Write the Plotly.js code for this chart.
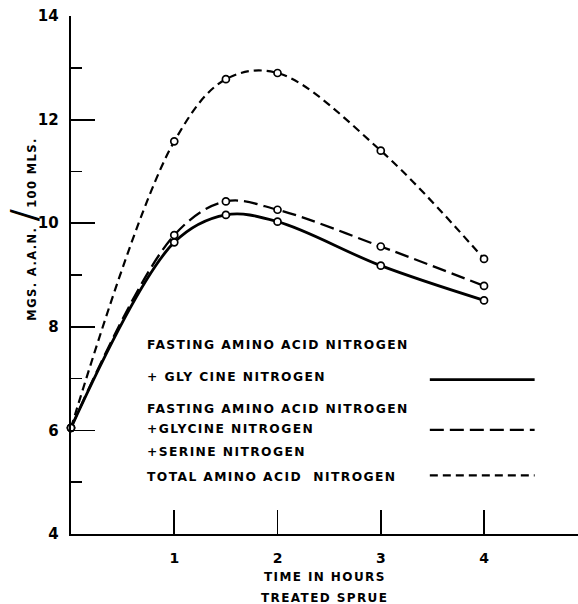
<!DOCTYPE html>
<html>
<head>
<meta charset="utf-8">
<script src="https://cdn.plot.ly/plotly-3.0.1.min.js"></script>
<style>
html, body { margin: 0; padding: 0; background: #fff; }
.annotation-text { letter-spacing: 1.4px; }
</style>
</head>
<body>
<div id="chart" style="width:578px;height:604px;"></div>
<script>
// ---- data ----
const hours = [0, 1, 1.5, 2, 3, 4];
const glycineN = [6.05, 9.63, 10.16, 10.03, 9.18, 8.51];
const glycineSerineN = [6.05, 9.77, 10.42, 10.26, 9.55, 8.79];
const totalN = [6.05, 11.58, 12.78, 12.90, 11.40, 9.31];

const xTickVals = [1, 2, 3, 4];
const yTickVals = [4, 6, 8, 10, 12, 14];
const yMinorVals = [5, 7, 9, 11, 13];

const legendRows = [
  "FASTING AMINO ACID NITROGEN",
  "+ GLY CINE NITROGEN",
  "FASTING AMINO ACID NITROGEN",
  "+GLYCINE NITROGEN",
  "+SERINE NITROGEN",
  "TOTAL AMINO ACID  NITROGEN"
];
const xTitleLines = ["TIME IN HOURS", "TREATED SPRUE"];
const yTitle = "MGS. A.A.N. <span style='font-size:36px;font-weight:normal'>/</span>100 MLS.";

// ---- layout / styling ----
const FONT = "DejaVu Sans, Liberation Sans, sans-serif";
const legendRowY = [7.65, 7.04, 6.42, 6.03, 5.59, 5.11];
const legendTextX = 0.716;
const sampleX = [3.475, 4.49];
const sampleY = [6.98, 6.01, 5.13];
const dashes = ["solid", "14px,6px", "8px,5px"];
const widths = [2.8, 2.3, 2.2];

const series = [glycineN, glycineSerineN, totalN];
const traces = series.map((ys, i) => ({
  x: hours, y: ys, type: "scatter", mode: "lines+markers",
  line: { color: "black", width: widths[i], dash: dashes[i], shape: "spline", smoothing: 1.0 },
  marker: { symbol: "circle", size: 7, color: "white", line: { color: "black", width: 1.7 } },
  cliponaxis: false, showlegend: false, hoverinfo: "skip"
}));

const annotations = legendRows.map((t, i) => ({
  x: legendTextX, y: legendRowY[i], xref: "x", yref: "y",
  xanchor: "left", yanchor: "middle", showarrow: false, text: t,
  font: { family: FONT, size: 12.3, color: "black", weight: "bold" }
}));
annotations.push({
  x: 0.5, y: 0, xref: "paper", yref: "paper", xanchor: "center", yanchor: "top",
  yshift: -34, showarrow: false, text: xTitleLines[0],
  font: { family: FONT, size: 12, color: "black", weight: "bold" }
});
annotations.push({
  x: 0.5, y: 0, xref: "paper", yref: "paper", xanchor: "center", yanchor: "top",
  yshift: -55, showarrow: false, text: xTitleLines[1],
  font: { family: FONT, size: 12, color: "black", weight: "bold" }
});
annotations.push({
  x: 0, y: 0.5875, xref: "paper", yref: "paper", xanchor: "center", yanchor: "middle",
  xshift: -47, textangle: -90, showarrow: false, text: yTitle,
  font: { family: FONT, size: 11.5, color: "black", weight: "bold" }
});

const shapes = sampleY.map((yy, i) => ({
  type: "line", xref: "x", yref: "y", x0: sampleX[0], x1: sampleX[1], y0: yy, y1: yy,
  line: { color: "black", width: widths[i], dash: dashes[i] }
}));

const layout = {
  width: 578, height: 604,
  margin: { l: 71, r: 0, t: 16, b: 70, pad: 0 },
  paper_bgcolor: "white", plot_bgcolor: "white",
  font: { family: FONT, color: "black" },
  xaxis: {
    range: [0, 4.91], showgrid: false, zeroline: false,
    showline: true, linecolor: "black", linewidth: 2,
    tickmode: "array", tickvals: xTickVals, ticktext: xTickVals.map(String),
    ticks: "inside", ticklen: 24, tickwidth: 1.6, tickcolor: "black",
    ticklabelstandoff: 10,
    tickfont: { family: FONT, size: 14, color: "black", weight: "bold" }
  },
  yaxis: {
    range: [4, 14], showgrid: false, zeroline: false,
    showline: true, linecolor: "black", linewidth: 2.4,
    tickmode: "array", tickvals: yTickVals, ticktext: yTickVals.map(String),
    ticks: "inside", ticklen: 24, tickwidth: 1.8, tickcolor: "black",
    ticklabelstandoff: 7,
    tickfont: { family: FONT, size: 15, color: "black", weight: "bold" },
    minor: { tickmode: "array", tickvals: yMinorVals, ticks: "inside", ticklen: 11, tickwidth: 1.6, tickcolor: "black", showgrid: false }
  },
  annotations: annotations,
  shapes: shapes,
  showlegend: false
};

Plotly.newPlot("chart", traces, layout, { displayModeBar: false, staticPlot: true });
</script>
</body>
</html>
